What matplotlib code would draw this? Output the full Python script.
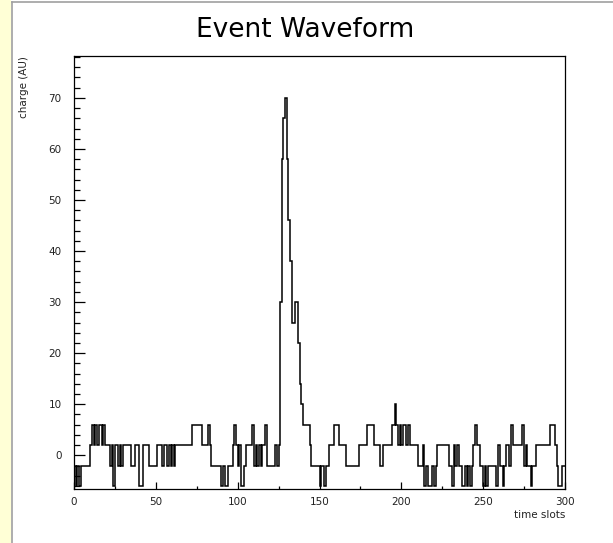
import numpy as np
import matplotlib
matplotlib.use("Agg")
import matplotlib.pyplot as plt
from matplotlib.ticker import MultipleLocator
from matplotlib.patches import Rectangle
from matplotlib.lines import Line2D

# charge per time slot (300 slots)
charge = [
    -2, -6, -2, -6, -2, -2, -2, -2, -2, -2,
    2, 6, 2, 6, 2, 6, 6, 2, 6, 2,
    2, 2, -2, 2, -6, 2, 2, -2, 2, -2,
    2, 2, 2, 2, 2, -2, -2, 2, 2, 2,
    -6, -6, 2, 2, 2, 2, -2, -2, -2, -2,
    -2, 2, 2, 2, -2, 2, 2, -2, 2, -2,
    2, -2, 2, 2, 2, 2, 2, 2, 2, 2,
    2, 2, 6, 6, 6, 6, 6, 6, 2, 2,
    2, 2, 6, 2, -2, -2, -2, -2, -2, -2,
    -6, -2, -6, -6, -2, -2, -2, 2, 6, 2,
    -2, 2, -6, -6, -2, 2, 2, 2, 2, 6,
    -2, 2, -2, 2, -2, 2, 2, 6, -2, -2,
    -2, -2, -2, 2, -2, 2, 30, 58, 66, 70,
    58, 46, 38, 26, 26, 30, 30, 22, 14, 10,
    6, 6, 6, 6, 2, -2, -2, -2, -2, -2,
    -6, -2, -2, -6, -2, -2, 2, 2, 2, 6,
    6, 6, 2, 2, 2, 2, -2, -2, -2, -2,
    -2, -2, -2, -2, 2, 2, 2, 2, 2, 6,
    6, 6, 6, 2, 2, 2, 2, -2, -2, 2,
    2, 2, 2, 2, 6, 6, 10, 6, 2, 6,
    2, 6, 6, 2, 6, 2, 2, 2, 2, 2,
    -2, -2, -2, 2, -6, -2, -6, -6, -6, -2,
    -6, -2, 2, 2, 2, 2, 2, 2, 2, -2,
    -2, -6, 2, -2, 2, -2, -2, -6, -6, -2,
    -6, -2, -6, -2, 2, 6, 2, 2, -2, -2,
    -6, -2, -6, -2, -2, -2, -2, -2, -6, 2,
    -2, -2, -6, -2, 2, 2, -2, 6, 2, 2,
    2, 2, 2, 2, 6, -2, 2, -2, -2, -6,
    -2, -2, 2, 2, 2, 2, 2, 2, 2, 2,
    2, 6, 6, 6, 2, -2, -6, -6, -2, -2,
]
slot_edges = np.arange(len(charge) + 1)

title = "Event Waveform"
xlabel = "time slots"
ylabel = "charge (AU)"

fig = plt.figure(figsize=(6.13, 5.43), dpi=100)
W, H = 613, 543

# light yellow strip on the left and the grey frame of the slide
fig.patches.append(Rectangle((0, 0), 11 / W, 1, transform=fig.transFigure,
                             facecolor="#ffffd6", edgecolor="none", zorder=0))
fig.lines.append(Line2D([12 / W, 12 / W], [0, 1 - 2 / H], transform=fig.transFigure,
                        color="#a0a0a0", lw=1.2))
fig.lines.append(Line2D([12 / W, 1], [1 - 2 / H, 1 - 2 / H], transform=fig.transFigure,
                        color="#a0a0a0", lw=1.2))

ax = fig.add_axes([74 / W, 1 - 489 / H, 491 / W, 433 / H])
ax.stairs(charge, slot_edges, color="black", lw=1.1, baseline=None)

ax.set_xlim(0, 300)
ax.set_ylim(-6.6, 78.2)

ax.xaxis.set_major_locator(MultipleLocator(50))
ax.xaxis.set_minor_locator(MultipleLocator(25))
ax.yaxis.set_major_locator(MultipleLocator(10))
ax.yaxis.set_minor_locator(MultipleLocator(2))
ax.tick_params(axis="both", which="both", direction="in", labelsize=7.5,
               labelcolor="#222222", width=0.9)
ax.tick_params(axis="x", which="major", length=5, pad=6)
ax.tick_params(axis="x", which="minor", length=2.2)
ax.tick_params(axis="y", which="major", length=8, pad=9)
ax.tick_params(axis="y", which="minor", length=4.3)

for sp in ax.spines.values():
    sp.set_linewidth(0.9)

ax.set_xlabel(xlabel, fontsize=7.5, color="#222222", loc="right", labelpad=2)
ax.set_ylabel(ylabel, fontsize=7.5, color="#222222", loc="top", labelpad=14)

fig.text(305 / W, 1 - 30 / H, title, fontsize=19, ha="center", va="center",
         family="DejaVu Sans")

fig.savefig("out.png", dpi=100)
